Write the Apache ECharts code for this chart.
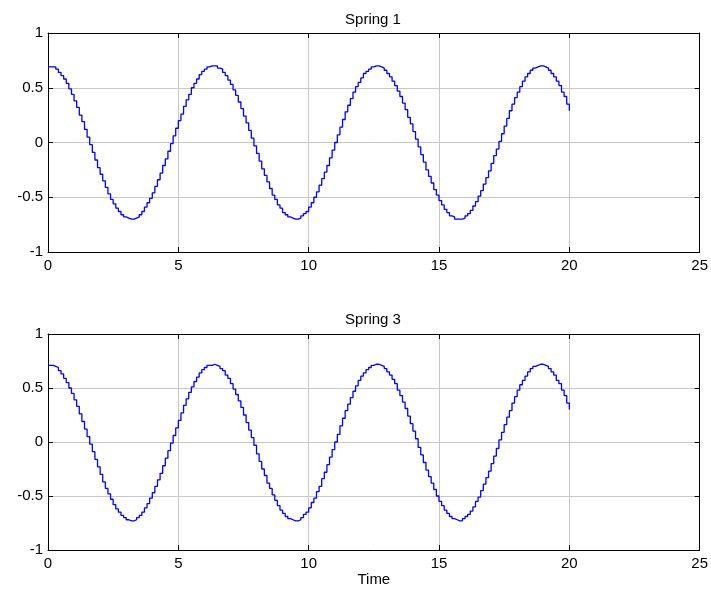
<!DOCTYPE html>
<html><head><meta charset="utf-8">
<script src="https://cdn.jsdelivr.net/npm/echarts@6/dist/echarts.min.js"></script>
<style>html,body{margin:0;padding:0;background:#fff;}#c{width:711px;height:590px;}</style>
</head><body><div id="c"></div>
<script>
var time = [
0,0.1,0.2,0.3,0.4,0.5,0.6,0.7,0.8,0.9,
1,1.1,1.2,1.3,1.4,1.5,1.6,1.7,1.8,1.9,
2,2.1,2.2,2.3,2.4,2.5,2.6,2.7,2.8,2.9,
3,3.1,3.2,3.3,3.4,3.5,3.6,3.7,3.8,3.9,
4,4.1,4.2,4.3,4.4,4.5,4.6,4.7,4.8,4.9,
5,5.1,5.2,5.3,5.4,5.5,5.6,5.7,5.8,5.9,
6,6.1,6.2,6.3,6.4,6.5,6.6,6.7,6.8,6.9,
7,7.1,7.2,7.3,7.4,7.5,7.6,7.7,7.8,7.9,
8,8.1,8.2,8.3,8.4,8.5,8.6,8.7,8.8,8.9,
9,9.1,9.2,9.3,9.4,9.5,9.6,9.7,9.8,9.9,
10,10.1,10.2,10.3,10.4,10.5,10.6,10.7,10.8,10.9,
11,11.1,11.2,11.3,11.4,11.5,11.6,11.7,11.8,11.9,
12,12.1,12.2,12.3,12.4,12.5,12.6,12.7,12.8,12.9,
13,13.1,13.2,13.3,13.4,13.5,13.6,13.7,13.8,13.9,
14,14.1,14.2,14.3,14.4,14.5,14.6,14.7,14.8,14.9,
15,15.1,15.2,15.3,15.4,15.5,15.6,15.7,15.8,15.9,
16,16.1,16.2,16.3,16.4,16.5,16.6,16.7,16.8,16.9,
17,17.1,17.2,17.3,17.4,17.5,17.6,17.7,17.8,17.9,
18,18.1,18.2,18.3,18.4,18.5,18.6,18.7,18.8,18.9,
19,19.1,19.2,19.3,19.4,19.5,19.6,19.7,19.8,19.9,
20];
var spring1 = [
0.69,0.69,0.69,0.67,0.64,0.61,0.58,0.54,0.49,0.44,
0.38,0.32,0.25,0.19,0.12,0.05,-0.02,-0.09,-0.16,-0.23,
-0.29,-0.35,-0.41,-0.47,-0.52,-0.56,-0.60,-0.63,-0.66,-0.68,
-0.69,-0.70,-0.70,-0.69,-0.68,-0.66,-0.63,-0.59,-0.55,-0.51,
-0.46,-0.40,-0.34,-0.28,-0.21,-0.15,-0.08,-0.01,0.06,0.13,
0.20,0.26,0.33,0.39,0.44,0.50,0.54,0.58,0.62,0.65,
0.67,0.69,0.70,0.70,0.70,0.68,0.67,0.64,0.61,0.57,
0.53,0.48,0.43,0.37,0.31,0.24,0.18,0.11,0.04,-0.03,
-0.10,-0.17,-0.24,-0.30,-0.36,-0.42,-0.48,-0.52,-0.57,-0.60,
-0.64,-0.66,-0.68,-0.69,-0.70,-0.70,-0.69,-0.67,-0.65,-0.63,
-0.59,-0.55,-0.50,-0.45,-0.39,-0.33,-0.27,-0.21,-0.14,-0.07,
0.00,0.07,0.14,0.21,0.28,0.34,0.40,0.46,0.51,0.55,
0.59,0.63,0.65,0.67,0.69,0.70,0.70,0.69,0.68,0.66,
0.63,0.60,0.56,0.52,0.47,0.42,0.36,0.30,0.23,0.17,
0.10,0.03,-0.04,-0.11,-0.18,-0.25,-0.31,-0.37,-0.43,-0.48,
-0.53,-0.57,-0.61,-0.64,-0.67,-0.68,-0.70,-0.70,-0.70,-0.69,
-0.67,-0.65,-0.62,-0.58,-0.54,-0.49,-0.44,-0.38,-0.32,-0.26,
-0.19,-0.12,-0.06,0.01,0.08,0.15,0.22,0.29,0.35,0.41,
0.46,0.51,0.56,0.60,0.63,0.66,0.68,0.69,0.70,0.70,
0.69,0.68,0.66,0.63,0.60,0.56,0.52,0.46,0.42,0.35,
0.29];
var spring3 = [
0.71,0.71,0.70,0.69,0.66,0.63,0.59,0.55,0.50,0.45,
0.39,0.33,0.26,0.19,0.12,0.05,-0.02,-0.09,-0.16,-0.23,
-0.30,-0.37,-0.43,-0.48,-0.53,-0.58,-0.62,-0.65,-0.68,-0.70,
-0.72,-0.73,-0.73,-0.72,-0.70,-0.68,-0.65,-0.61,-0.57,-0.52,
-0.47,-0.41,-0.35,-0.29,-0.22,-0.15,-0.08,-0.01,0.06,0.13,
0.20,0.27,0.34,0.40,0.46,0.51,0.56,0.60,0.64,0.67,
0.69,0.71,0.71,0.72,0.71,0.70,0.68,0.66,0.62,0.59,
0.54,0.49,0.44,0.38,0.32,0.25,0.18,0.11,0.04,-0.03,
-0.11,-0.18,-0.25,-0.31,-0.38,-0.43,-0.49,-0.54,-0.59,-0.63,
-0.66,-0.69,-0.71,-0.72,-0.73,-0.73,-0.72,-0.70,-0.67,-0.65,
-0.61,-0.56,-0.52,-0.46,-0.41,-0.34,-0.28,-0.21,-0.14,-0.07,
0.00,0.07,0.15,0.22,0.29,0.35,0.41,0.47,0.52,0.57,
0.61,0.64,0.67,0.69,0.71,0.72,0.72,0.71,0.70,0.68,
0.65,0.62,0.58,0.54,0.48,0.43,0.37,0.31,0.24,0.17,
0.10,0.03,-0.05,-0.12,-0.19,-0.26,-0.32,-0.38,-0.44,-0.50,
-0.55,-0.59,-0.63,-0.66,-0.69,-0.71,-0.72,-0.73,-0.73,-0.71,
-0.69,-0.67,-0.64,-0.60,-0.55,-0.51,-0.45,-0.39,-0.33,-0.27,
-0.20,-0.13,-0.06,0.02,0.09,0.16,0.23,0.29,0.36,0.42,
0.48,0.53,0.57,0.61,0.65,0.68,0.70,0.71,0.72,0.72,
0.71,0.70,0.68,0.65,0.62,0.57,0.54,0.48,0.43,0.36,
0.30];
var titles = ['Spring 1', 'Spring 3'];
var xLabel = 'Time';
var xTicks = {min:0, max:25, interval:5};
var yTicks = {min:-1, max:1, interval:0.5};

var font = 'Liberation Sans, Arial, sans-serif';
var fs = 15;
function pairs(v){ return time.map(function(t,i){ return [t, v[i]]; }); }
var grids = [
  {left:48, right:10, top:33, height:219},
  {left:48, right:10, top:334, height:216}
];
var xAxes = [], yAxes = [], series = [];
[spring1, spring3].forEach(function(v, g){
  xAxes.push({type:'value', gridIndex:g, min:xTicks.min, max:xTicks.max, interval:xTicks.interval, position:'bottom',
    axisLine:{show:true, onZero:false, lineStyle:{color:'#000', width:1}},
    axisTick:{show:true, inside:true, length:5, lineStyle:{color:'#000'}},
    axisLabel:{color:'#000', fontSize:fs, fontFamily:font, margin:6},
    splitLine:{show:true, lineStyle:{color:'#c8c8c8', width:1}},
    name: g===1 ? xLabel : '', nameLocation:'middle', nameGap:22,
    nameTextStyle:{color:'#000', fontSize:fs, fontFamily:font, verticalAlign:'top'}});
  xAxes.push({type:'value', gridIndex:g, min:xTicks.min, max:xTicks.max, interval:xTicks.interval, position:'top',
    axisLine:{show:true, onZero:false, lineStyle:{color:'#000', width:1}},
    axisTick:{show:true, inside:true, length:5, lineStyle:{color:'#000'}},
    axisLabel:{show:false}, splitLine:{show:false}});
  yAxes.push({type:'value', gridIndex:g, min:yTicks.min, max:yTicks.max, interval:yTicks.interval, position:'left',
    axisLine:{show:true, onZero:false, lineStyle:{color:'#000', width:1}},
    axisTick:{show:true, inside:true, length:5, lineStyle:{color:'#000'}},
    axisLabel:{color:'#000', fontSize:fs, fontFamily:font, margin:5},
    splitLine:{show:true, lineStyle:{color:'#c8c8c8', width:1}}});
  yAxes.push({type:'value', gridIndex:g, min:yTicks.min, max:yTicks.max, interval:yTicks.interval, position:'right',
    axisLine:{show:true, onZero:false, lineStyle:{color:'#000', width:1}},
    axisTick:{show:true, inside:true, length:5, lineStyle:{color:'#000'}},
    axisLabel:{show:false}, splitLine:{show:false}});
  series.push({type:'line', xAxisIndex:g*2, yAxisIndex:g*2, data:pairs(v), step:'end',
    showSymbol:false, symbol:'none', animation:false,
    lineStyle:{color:'#0000ff', width:1.3}});
});
var chart = echarts.init(document.getElementById('c'), null, {renderer:'canvas'});
chart.setOption({
  animation:false,
  backgroundColor:'#fff',
  title: [
    {text:titles[0], left:368, top:7, textAlign:'center', textStyle:{fontSize:fs, fontWeight:'normal', color:'#000', fontFamily:font}},
    {text:titles[1], left:368, top:307, textAlign:'center', textStyle:{fontSize:fs, fontWeight:'normal', color:'#000', fontFamily:font}}
  ],
  grid: grids, xAxis: xAxes, yAxis: yAxes, series: series
});
</script></body></html>
